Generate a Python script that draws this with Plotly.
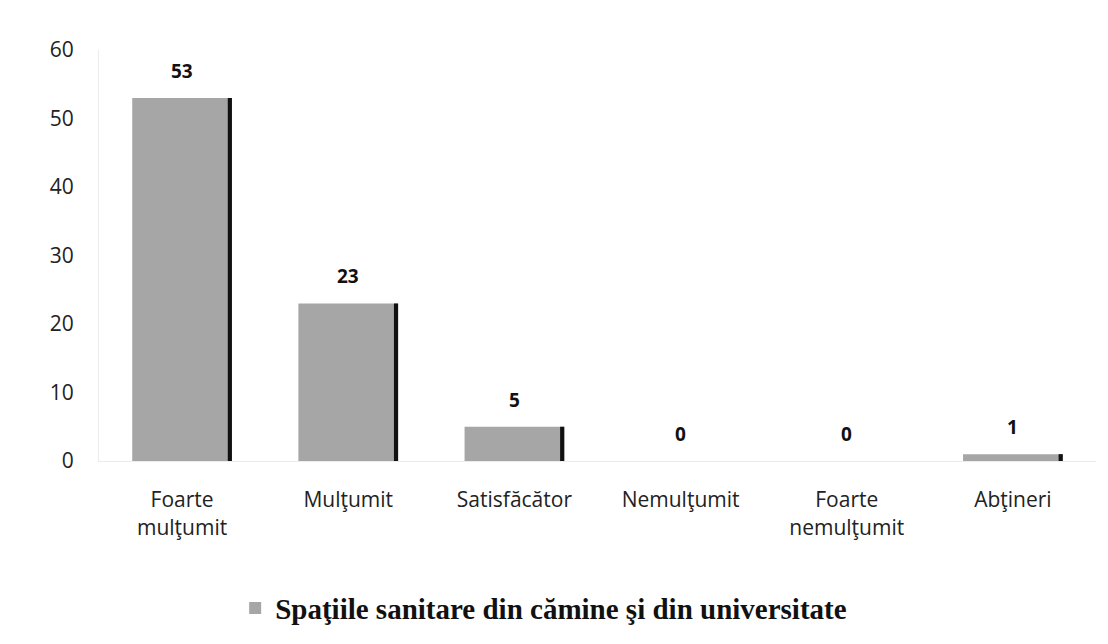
import plotly.graph_objects as go

categories = ["Foarte<br>mulţumit", "Mulţumit", "Satisfăcător", "Nemulţumit",
              "Foarte<br>nemulţumit", "Abţineri"]
values = [53, 23, 5, 0, 0, 1]
series_name = "Spaţiile sanitare din cămine şi din universitate"
y_ticks = [0, 10, 20, 30, 40, 50, 60]

tick_font = dict(family="Open Sans, Noto Sans, sans-serif", size=21, color="#222222")


def build_figure():
    fig = go.Figure()
    fig.add_trace(go.Bar(x=categories, y=values, name=series_name,
                         width=0.6, marker=dict(color="#a6a6a6", line=dict(width=0))))
    # dark shaded edge on the right side of each bar
    fig.add_trace(go.Bar(x=categories, y=values, showlegend=False, hoverinfo="skip",
                         width=0.025, offset=0.275, marker=dict(color="#111111", line=dict(width=0))))

    for cat, val in zip(categories, values):
        fig.add_annotation(x=cat, y=val, text=str(val), showarrow=False,
                           yanchor="middle", yshift=27,
                           font=dict(family="Open Sans, Noto Sans, sans-serif", size=19,
                                     color="#111111", weight="bold"))

    # the page adds 8px of body margin, so margins are set a bit smaller
    fig.update_layout(
        width=1108, height=644,
        barmode="overlay",
        plot_bgcolor="white", paper_bgcolor="white",
        margin=dict(l=91, r=20, t=42, b=191),
        legend=dict(orientation="h", x=0.446, xanchor="center", y=-0.358, yanchor="middle",
                    font=dict(family="Liberation Serif, DejaVu Serif, serif", size=29,
                              color="#111111", weight="bold"),
                    itemwidth=30),
        showlegend=True,
    )
    fig.update_xaxes(showgrid=False, showline=True, linecolor="#ececec", linewidth=1,
                     tickfont=tick_font, ticklabelstandoff=20, tickangle=0)
    fig.update_yaxes(range=[0, 60], tickvals=y_ticks, showgrid=False, zeroline=False,
                     showline=True, linecolor="#ececec", linewidth=1,
                     tickfont=tick_font, ticklabelstandoff=20)
    return fig


def main():
    fig = build_figure()
    fig.write_html("out.html")


if __name__ == "__main__":
    main()
